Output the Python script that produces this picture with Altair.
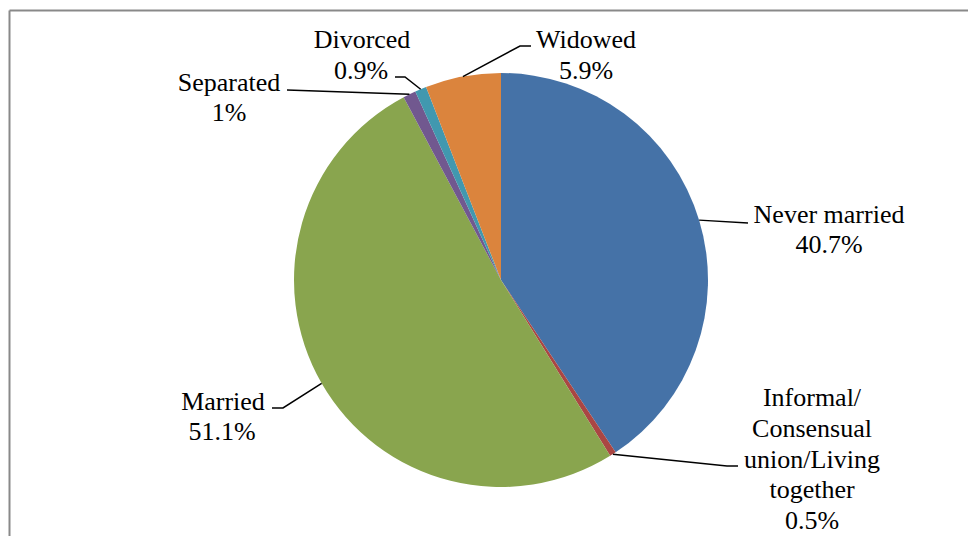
import altair as alt
import pandas as pd
import math

# ---- data ----
categories = ["Never married", "Informal/Consensual union/Living together",
              "Married", "Separated", "Divorced", "Widowed"]
values = [40.7, 0.5, 51.1, 1.0, 0.9, 5.9]
pct_labels = ["40.7%", "0.5%", "51.1%", "1%", "0.9%", "5.9%"]
colors = ["#4572A7", "#AA4643", "#89A54E", "#71588F", "#4198AF", "#DB843D"]

# ---- layout (chart pixel coords; page = chart + 8) ----
W, H = 960, 528
CX, CY, R = 493, 272, 207
FONT = "Liberation Serif"
FS = 26

# label text lines per category: (text, x, y)
label_lines = {
    "Never married": [("Never married", 821, 207), ("40.7%", 821, 237)],
    "Informal/Consensual union/Living together": [
        ("Informal/", 804, 390), ("Consensual", 804, 421), ("union/Living", 804, 452),
        ("together", 804, 482), ("0.5%", 804, 513)],
    "Married": [("Married", 215, 394), ("51.1%", 214, 424)],
    "Separated": [("Separated", 221, 75), ("1%", 221, 105)],
    "Divorced": [("Divorced", 354, 32), ("0.9%", 353, 63)],
    "Widowed": [("Widowed", 578, 32), ("5.9%", 578, 63)],
}
# leader line points after the pie-edge point
leader_tail = {
    "Never married": [(740, 215)],
    "Informal/Consensual union/Living together": [(719, 458), (730, 458)],
    "Married": [(275, 400), (264, 400)],
    "Separated": [(279, 82)],
    "Divorced": [(397, 69), (387, 69)],
    "Widowed": [(512, 38), (523, 38)],
}

pie_df = pd.DataFrame({"category": categories, "value": values,
                       "idx": list(range(len(categories)))})

total = sum(values)
cum = 0.0
line_rows = []
for cat, v in zip(categories, values):
    mid = (cum + v / 2) / total * 2 * math.pi
    cum += v
    ex = CX + R * math.sin(mid)
    ey = CY - R * math.cos(mid)
    pts = [(ex, ey)] + leader_tail[cat]
    for s, (px, py) in enumerate(pts):
        line_rows.append({"label": cat, "seq": s, "px": px, "py": py})
lines_df = pd.DataFrame(line_rows)

text_rows = []
for cat in categories:
    for t, x, y in label_lines[cat]:
        text_rows.append({"t": t, "tx": x, "ty": y})
text_df = pd.DataFrame(text_rows)

border_df = pd.DataFrame({"x": [1.5, 1.5], "y": [2.5, 2.5],
                          "x2": [W + 20, 1.5], "y2": [2.5, H + 20]})

border = alt.Chart(border_df).mark_rule(color="#898989", strokeWidth=2).encode(
    x=alt.X("x:Q", scale=None, axis=None),
    y=alt.Y("y:Q", scale=None, axis=None),
    x2="x2:Q", y2="y2:Q")

pie = alt.Chart(pie_df).mark_arc(outerRadius=R).encode(
    theta=alt.Theta("value:Q", stack=True),
    color=alt.Color("category:N", scale=alt.Scale(domain=categories, range=colors),
                    legend=None),
    order=alt.Order("idx:Q", sort="ascending"),
    x=alt.value(CX), y=alt.value(CY))

leaders = alt.Chart(lines_df).mark_line(color="black", strokeWidth=1.5).encode(
    x=alt.X("px:Q", scale=None, axis=None),
    y=alt.Y("py:Q", scale=None, axis=None),
    detail="label:N",
    order="seq:Q")

texts = alt.Chart(text_df).mark_text(font=FONT, fontSize=FS, color="black",
                                     align="center", baseline="middle").encode(
    x=alt.X("tx:Q", scale=None, axis=None),
    y=alt.Y("ty:Q", scale=None, axis=None),
    text="t:N")

chart = alt.layer(border, pie, leaders, texts).properties(
    width=W, height=H, padding=0,
    autosize=alt.AutoSizeParams(type="none"),
    background="white",
).configure_view(stroke=None)

chart.save("out.html", embed_options={"renderer": "svg", "actions": False})
